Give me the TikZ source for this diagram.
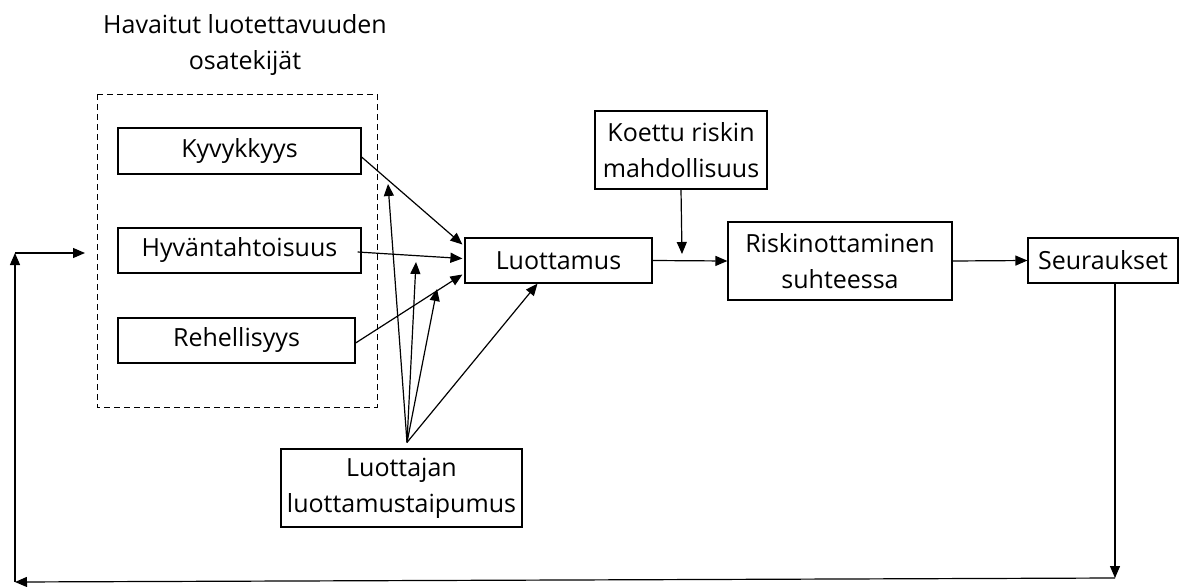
\documentclass[tikz,border=0pt]{standalone}
\usepackage{fontspec}
\setmainfont{Open Sans}
\usetikzlibrary{arrows.meta,calc}
\begin{document}
\begin{tikzpicture}[x=1pt,y=-1pt,
  line width=1.2pt,
  txt/.style={font=\fontsize{25}{36}\selectfont, align=center, inner sep=0pt},
  box/.style={draw, txt, rectangle},
  arr/.style={-{Triangle[length=12pt,width=10pt]}}]
\useasboundingbox (0,0) rectangle (1201,586);

% title of the group
\node[txt] (title) at (245,45) {Havaitut luotettavuuden\\osatekijät};

% dashed group frame
\draw[line width=1pt, dash pattern=on 6pt off 4pt] (97,94) rectangle (377,407);

% component boxes
\node[box, minimum width=243, minimum height=46] (kyv) at (239.5,151) {Kyvykkyys};
\node[box, minimum width=243, minimum height=45] (hyv) at (239.5,250.5) {Hyväntahtoisuus};
\node[box, minimum width=237, minimum height=45] (reh) at (236.5,340.5) {Rehellisyys};

% main chain
\node[box, minimum width=187, minimum height=45] (luo) at (558.5,260.5) {Luottamus};
\node[box, minimum width=172, minimum height=78] (koe) at (681,150) {Koettu riskin\\mahdollisuus};
\node[box, minimum width=224, minimum height=78] (ris) at (840,261) {Riskinottaminen\\suhteessa};
\node[box, minimum width=150, minimum height=45] (seu) at (1103,260.5) {Seuraukset};
\node[box, minimum width=241, minimum height=78] (lpt) at (401.5,488) {Luottajan\\luottamustaipumus};

% fan from the trust propensity
\coordinate (apex) at ($(lpt.north)+(5.5,-6)$);
\coordinate (f1) at (388,184);
\coordinate (f2) at (416,262);
\coordinate (f3) at (437,289);
\draw[arr] (apex) -- (f1);
\draw[arr] (apex) -- (f2);
\draw[arr] (apex) -- (f3);
\draw[arr] (apex) -- ($(luo.south)+(-21,0)$);

% components into trust
\draw[arr] ($(kyv.east)+(0,6)$) -- ($(luo.west)+(-2,-16)$);
\draw[arr] ($(hyv.east)+(-4,1.5)$) -- ($(luo.west)+(-2,-2)$);
\draw[arr] ($(reh.east)+(0,2.5)$) -- ($(luo.west)+(-2,14)$);

% chain arrows
\coordinate (koeend) at (682,254);
\draw[arr] (koe.south) -- (koeend);
\draw[arr] (luo.east) -- (ris.west);
\draw[arr] (ris.east) -- (seu.west);

% feedback loop
\coordinate (c1) at (1115,578);
\coordinate (c2) at (15,582);
\coordinate (c3) at (15,253);
\coordinate (c4) at (85,253);
\draw[arr] ($(seu.south)+(12,0)$) -- (c1);
\draw[arr] (c1) -- (c2);
\draw[arr] (c2) -- (c3);
\draw[arr] (c3) -- (c4);
\end{tikzpicture}
\end{document}
